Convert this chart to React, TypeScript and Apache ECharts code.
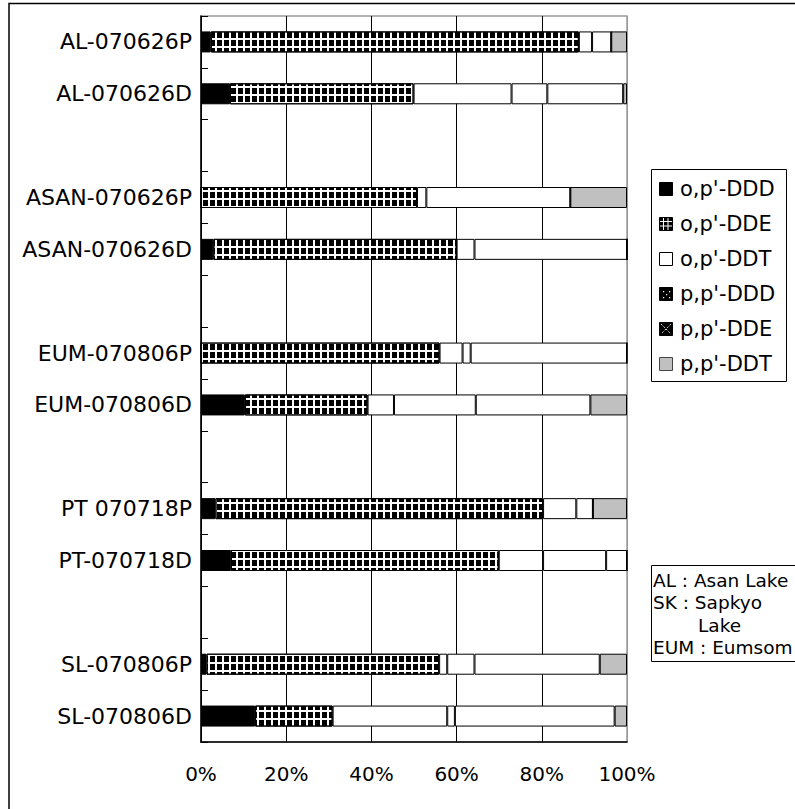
import React, { useEffect, useRef } from "react";
import * as echarts from "echarts";

const categories = [
  "AL-070626P", "AL-070626D", " ",
  "ASAN-070626P", "ASAN-070626D", "  ",
  "EUM-070806P", "EUM-070806D", "   ",
  "PT 070718P", "PT-070718D", "    ",
  "SL-070806P", "SL-070806D",
];

const seriesNames = ["o,p'-DDD", "o,p'-DDE", "o,p'-DDT", "p,p'-DDD", "p,p'-DDE", "p,p'-DDT"];

const opDDD = [2.3, 6.8, null, 0, 2.9, null, 0, 10.3, null, 3.4, 7.0, null, 1.3, 12.7];
const opDDE = [86.4, 43.1, null, 50.7, 57.1, null, 56.0, 28.8, null, 76.9, 62.9, null, 54.6, 18.2];
const opDDT = [3.1, 23.0, null, 2.2, 4.2, null, 5.4, 6.2, null, 7.8, 10.4, null, 1.9, 26.9];
const ppDDD = [4.5, 8.4, null, 33.8, 35.8, null, 1.9, 19.2, null, 3.9, 14.8, null, 6.4, 1.8];
const ppDDE = [0, 17.8, null, 0, 0, null, 36.7, 26.9, null, 0, 4.9, null, 29.4, 37.5];
const ppDDT = [3.7, 0.9, null, 13.3, 0, null, 0, 8.6, null, 8.0, 0, null, 6.4, 2.9];

const xTicks = [0, 20, 40, 60, 80, 100];

const noteLines = ["AL : Asan Lake", "SK : Sapkyo", "Lake", "EUM : Eumsom"];

const FONT = "DejaVu Sans";

export default function App() {
  const ref = useRef<HTMLDivElement>(null);

  useEffect(() => {
    if (!ref.current) return;
    const chart = echarts.init(ref.current, null, { renderer: "svg" });

    const seriesData = [opDDD, opDDE, opDDT, ppDDD, ppDDE, ppDDT];
    const fills = ["#000000", "#ffffff", "#ffffff", "#ffffff", "#ffffff", "#c0c0c0"];

    const series = seriesData.map((d, i) => ({
      name: seriesNames[i],
      type: "bar",
      stack: "total",
      barWidth: 21,
      data: d,
      itemStyle: {
        color: fills[i],
        borderColor: "#000",
        borderWidth: 1,
        ...(i === 1
          ? {
              decal: {
                symbol: "rect",
                symbolSize: 1,
                color: "#000",
                dashArrayX: [5, 1.5],
                dashArrayY: [5.5, 1.5],
                rotation: 0,
              },
            }
          : {}),
      },
    }));

    // legend graphic
    const legendX = 651;
    const legendY = 169;
    const rowStart = 189;
    const rowGap = 35;
    const legendEls: any[] = [
      {
        type: "rect",
        shape: { x: legendX + 0.5, y: legendY + 0.5, width: 135, height: 212 },
        style: { fill: "#fff", stroke: "#000", lineWidth: 1 },
      },
    ];
    seriesNames.forEach((name, i) => {
      const cy = rowStart + i * rowGap;
      const ix = 659;
      const iy = cy - 7;
      const s = 13;
      const iconFill = ["#000", "#000", "#fff", "#000", "#000", "#c0c0c0"][i];
      legendEls.push({
        type: "rect",
        shape: { x: ix + 0.5, y: iy + 0.5, width: s, height: s },
        style: { fill: iconFill, stroke: i === 5 ? "#444" : "#000", lineWidth: 1 },
      });
      if (i === 1) {
        [4.5, 9].forEach((o) => {
          legendEls.push({ type: "line", shape: { x1: ix + o, y1: iy + 1, x2: ix + o, y2: iy + s }, style: { stroke: "#fff", lineWidth: 1 } });
          legendEls.push({ type: "line", shape: { x1: ix + 1, y1: iy + o, x2: ix + s, y2: iy + o }, style: { stroke: "#fff", lineWidth: 1 } });
        });
      }
      if (i === 3) {
        [[4, 4], [4, 10], [7, 7], [10, 4], [10, 10]].forEach(([dx, dy]) => {
          legendEls.push({ type: "rect", shape: { x: ix + dx, y: iy + dy, width: 1.2, height: 1.2 }, style: { fill: "#fff" } });
        });
      }
      if (i === 4) {
        legendEls.push({ type: "line", shape: { x1: ix + 2, y1: iy + 2, x2: ix + s - 1, y2: iy + s - 1 }, style: { stroke: "#ddd", lineWidth: 1, lineDash: [2, 1.5] } });
        legendEls.push({ type: "line", shape: { x1: ix + s - 1, y1: iy + 2, x2: ix + 2, y2: iy + s - 1 }, style: { stroke: "#ddd", lineWidth: 1, lineDash: [2, 1.5] } });
      }
      legendEls.push({
        type: "text",
        x: 680,
        y: cy,
        style: { text: name, fill: "#000", font: `21px "${FONT}"`, verticalAlign: "middle", align: "left" },
      });
    });

    // note box
    const noteEls: any[] = [
      {
        type: "rect",
        shape: { x: 651.5, y: 565.5, width: 170, height: 96 },
        style: { fill: "#fff", stroke: "#000", lineWidth: 1 },
      },
    ];
    noteLines.forEach((t, i) => {
      noteEls.push({
        type: "text",
        x: i === 2 ? 698 : 653,
        y: 580 + i * 22.5,
        style: { text: t, fill: "#000", font: `18.5px "${FONT}"`, verticalAlign: "middle", align: "left" },
      });
    });

    chart.setOption({
      animation: false,
      backgroundColor: "#fff",
      grid: {
        left: 201,
        top: 16,
        right: 168,
        bottom: 67,
        show: true,
        borderColor: "#999",
        borderWidth: 1.5,
        backgroundColor: "transparent",
      },
      xAxis: {
        type: "value",
        min: 0,
        max: 100,
        interval: 20,
        axisLine: { show: true, lineStyle: { color: "#000", width: 1.5 } },
        axisTick: { show: false },
        splitLine: {
          show: true,
          lineStyle: { color: ["#000", "#000", "#000", "#000", "#000", "#999"], width: 1 },
        },
        axisLabel: {
          formatter: (v: number) => (xTicks.includes(v) ? `${v}%` : ""),
          color: "#000",
          fontFamily: FONT,
          fontSize: 20,
          margin: 22,
        },
      },
      yAxis: {
        type: "category",
        inverse: true,
        data: categories,
        axisLine: { show: true, lineStyle: { color: "#000", width: 1.5 } },
        axisTick: { show: true, inside: true, length: 7, lineStyle: { color: "#000", width: 1 } },
        splitLine: { show: false },
        axisLabel: {
          color: "#000",
          fontFamily: FONT,
          fontSize: 22,
          margin: 9,
          interval: 0,
        },
      },
      series,
      graphic: [
        {
          type: "rect",
          shape: { x: 9, y: 3.5, width: 900, height: 900 },
          style: { fill: "none", stroke: "#000", lineWidth: 1.5 },
          silent: true,
          z: -1,
        },
        ...legendEls,
        ...noteEls,
      ],
    });

    return () => chart.dispose();
  }, []);

  return (
    <div
      ref={ref}
      style={{ position: "absolute", left: 0, top: 0, width: 795, height: 809 }}
    />
  );
}
